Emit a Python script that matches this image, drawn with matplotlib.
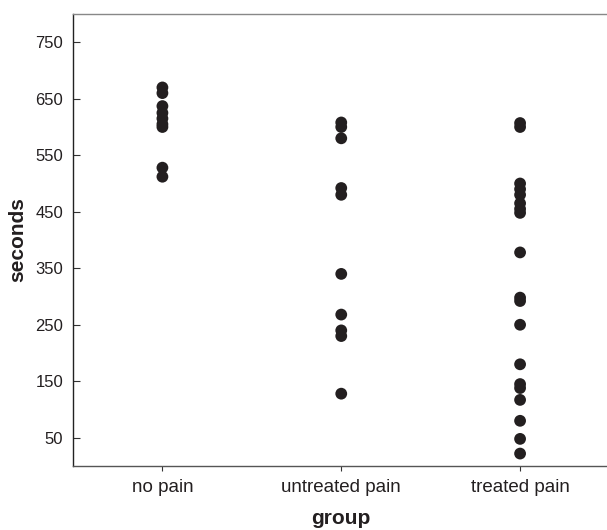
import matplotlib
matplotlib.use("Agg")
import matplotlib.pyplot as plt

plt.rcParams['font.family'] = ['Liberation Sans', 'DejaVu Sans']

categories = ["no pain", "untreated pain", "treated pain"]
no_pain = [670, 660, 637, 625, 615, 605, 600, 528, 512]
untreated_pain = [608, 600, 580, 492, 480, 340, 268, 240, 230, 128]
treated_pain = [607, 600, 500, 490, 480, 465, 455, 448, 378, 298, 292, 250,
                180, 145, 138, 117, 80, 48, 22]
yticks = [50, 150, 250, 350, 450, 550, 650, 750]

fig = plt.figure(figsize=(6.07, 5.30), dpi=100)
ax = fig.add_axes([73/607, 64/530, (609.5-73)/607, (466-14)/530])

groups = [no_pain, untreated_pain, treated_pain]
for i, vals in enumerate(groups):
    ax.scatter([i + 1] * len(vals), vals, s=72, color='#231f20',
               edgecolors='none', zorder=3)

ax.set_xlim(0.5, 3.5)
ax.set_ylim(0, 800)
ax.set_xticks([1, 2, 3])
ax.set_xticklabels(categories)
ax.set_yticks(yticks)
ax.tick_params(axis='y', direction='in', length=5, width=0.8,
               color='#333333', labelsize=12, labelcolor='#231f20', pad=7)
ax.tick_params(axis='x', direction='out', length=3.6, width=0.8,
               color='#333333', labelsize=13.5, labelcolor='#231f20', pad=6)

ax.spines['right'].set_visible(False)
ax.spines['left'].set_color('#222222')
ax.spines['bottom'].set_color('#555555')
ax.spines['top'].set_color('#888888')
for s in ax.spines.values():
    s.set_linewidth(1.0)

ax.set_ylabel("seconds", fontsize=15, fontweight='bold', labelpad=6,
              color='#231f20')
ax.set_xlabel("group", fontsize=15, fontweight='bold', labelpad=9,
              color='#231f20')

fig.savefig("out.png", dpi=100)
